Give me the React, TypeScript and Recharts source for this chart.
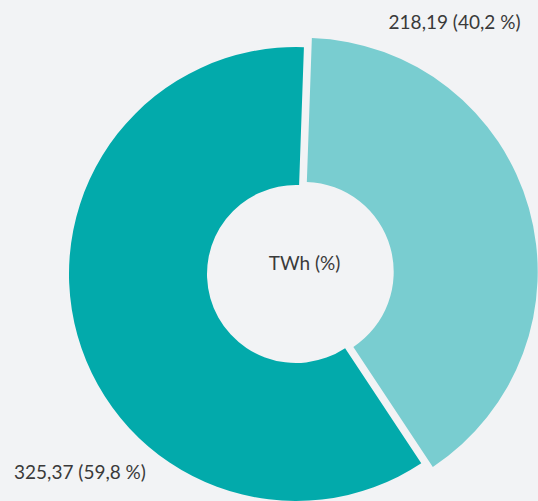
import React from 'react';
import { PieChart, Pie, Cell } from 'recharts';

const categories = ['Share A', 'Share B'];
const values = [325.37, 218.19];
const valueLabels = ['325,37', '218,19'];
const percentLabels = ['59,8 %', '40,2 %'];
const centerLabel = 'TWh (%)';

const COLORS = ['#02aaab', '#79cdd0'];
const BG = '#f2f3f5';
const TEXT = '#3a3a3a';
const FONT = 'Lato, "Open Sans", sans-serif';

const data = categories.map((name, i) => ({
  name,
  value: values[i],
  label: `${valueLabels[i]} (${percentLabels[i]})`,
}));

const CX = 296;
const CY = 274;
const INNER = [89, 90];
const OUTER = [227, 234];
const START = 88;
const EXPLODE = 8;
const LABEL_ANGLES = [222.5, 58.9];
const LABEL_DIST = [293, 292];

const total = values.reduce((a, b) => a + b, 0);
const lightStart = START + (values[0] / total) * 360;
const lightMid = lightStart + ((values[1] / total) * 360) / 2;
const RAD = Math.PI / 180;
const ex = EXPLODE * Math.cos(lightMid * RAD);
const ey = -EXPLODE * Math.sin(lightMid * RAD);

const makeLabel = (target: number) => (props: any) => {
  const { cx, cy, index, payload } = props;
  if (index !== target) return null;
  const a = LABEL_ANGLES[index] * RAD;
  const x = cx + LABEL_DIST[index] * Math.cos(a);
  const y = cy - LABEL_DIST[index] * Math.sin(a);
  return (
    <text
      x={x}
      y={y}
      textAnchor="middle"
      dominantBaseline="central"
      fill={TEXT}
      fontSize={19}
      fontFamily={FONT}
    >
      {payload.label}
    </text>
  );
};

export default function App() {
  return (
    <div style={{ position: 'fixed', left: 0, top: 0, width: 538, height: 501, background: BG }}>
      <PieChart width={538} height={501} margin={{ top: 0, right: 0, bottom: 0, left: 0 }}>
        <Pie
          data={data}
          dataKey="value"
          cx={CX}
          cy={CY}
          innerRadius={INNER[0]}
          outerRadius={OUTER[0]}
          startAngle={START}
          endAngle={START + 360}
          stroke="none"
          isAnimationActive={false}
          labelLine={false}
          label={makeLabel(0)}
        >
          {data.map((d, i) => (
            <Cell key={d.name} fill={i === 0 ? COLORS[0] : 'transparent'} />
          ))}
        </Pie>
        <Pie
          data={data}
          dataKey="value"
          cx={CX + ex}
          cy={CY + ey}
          innerRadius={INNER[1]}
          outerRadius={OUTER[1]}
          startAngle={START}
          endAngle={START + 360}
          stroke="none"
          isAnimationActive={false}
          labelLine={false}
          label={makeLabel(1)}
        >
          {data.map((d, i) => (
            <Cell key={d.name} fill={i === 1 ? COLORS[1] : 'transparent'} />
          ))}
        </Pie>
        <text
          x={CX + 8.5}
          y={CY - 12}
          textAnchor="middle"
          dominantBaseline="central"
          fill={TEXT}
          fontSize={19}
          fontFamily={FONT}
        >
          {centerLabel}
        </text>
      </PieChart>
    </div>
  );
}
